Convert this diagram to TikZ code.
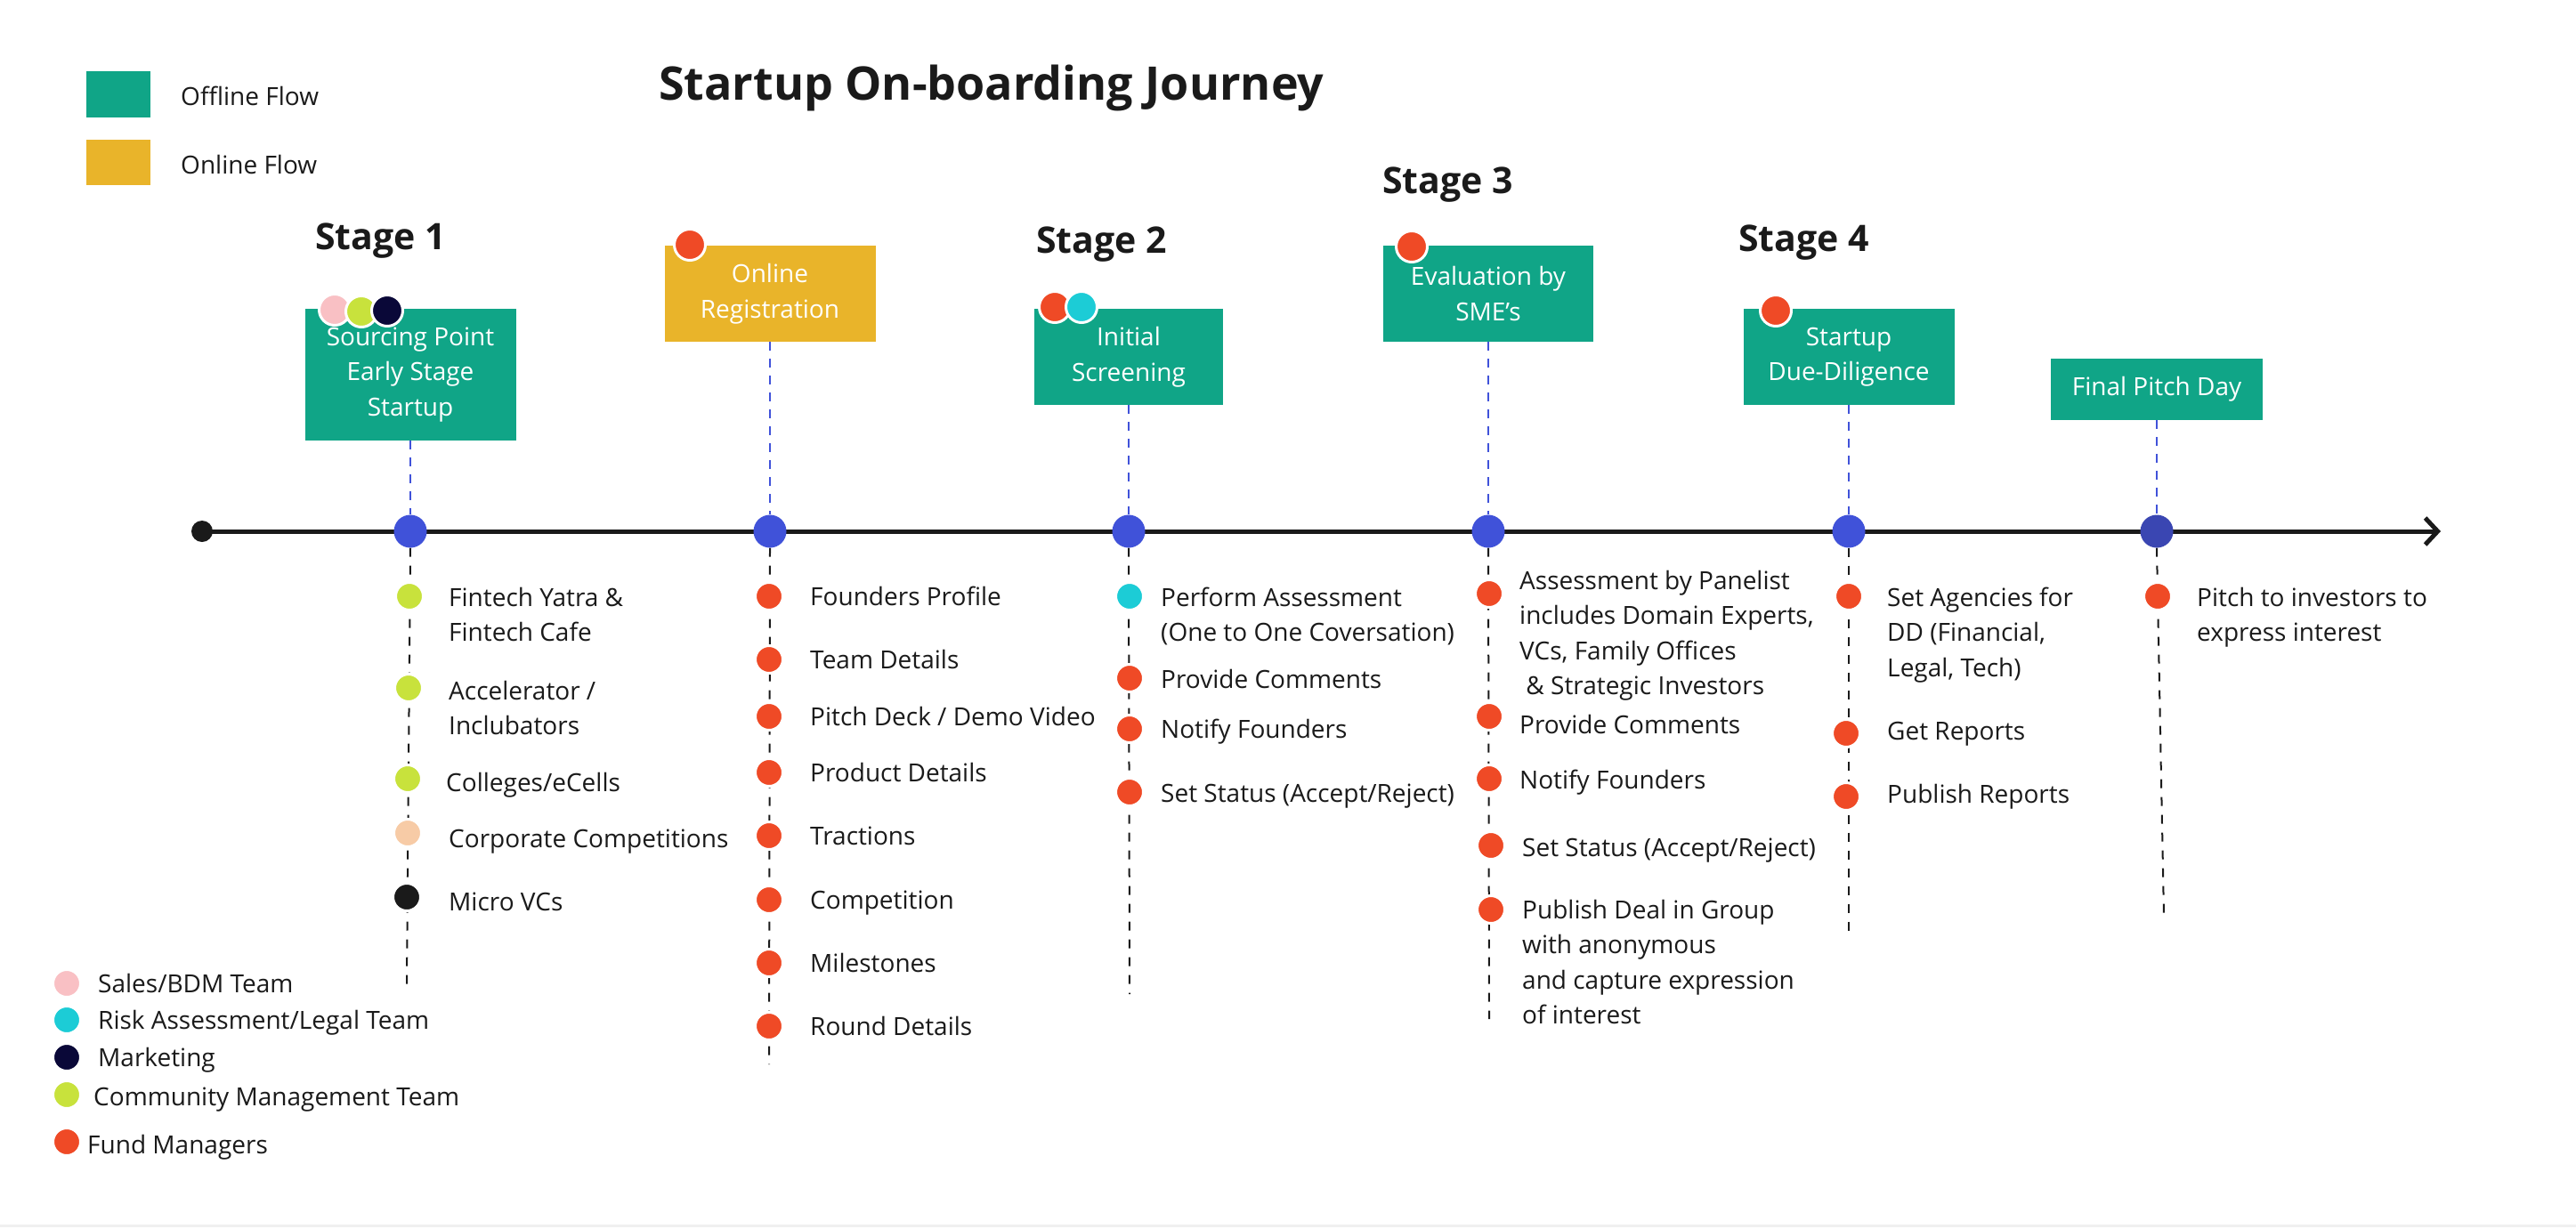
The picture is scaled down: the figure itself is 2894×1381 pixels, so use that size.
\documentclass[tikz,border=0pt]{standalone}
\usepackage{fontspec}
\setmainfont{Open Sans}
\usetikzlibrary{arrows.meta,backgrounds}
\definecolor{teal1}{RGB}{16,165,135}
\definecolor{gold1}{RGB}{233,180,42}
\definecolor{red1}{RGB}{239,74,38}
\definecolor{blue1}{RGB}{64,82,217}
\definecolor{blue2}{RGB}{58,70,178}
\definecolor{lime1}{RGB}{200,226,60}
\definecolor{pink1}{RGB}{249,192,196}
\definecolor{navy1}{RGB}{10,8,56}
\definecolor{cyan1}{RGB}{28,204,214}
\definecolor{peach1}{RGB}{247,203,166}
\definecolor{ink}{RGB}{26,26,26}
\newcommand{\itemlines}[1]{\begin{tabular}[t]{@{}l@{}}#1\end{tabular}}
\tikzset{
  box/.style={rectangle, inner sep=0pt, text=white, align=center, font=\fontsize{28}{39.5}\selectfont},
  itemtxt/.style={anchor=base west, inner sep=0pt, text=ink, font=\fontsize{28}{39.5}\selectfont},
  legtxt/.style={anchor=base west, inner sep=0pt, text=ink, font=\fontsize{28}{39.5}\selectfont},
  legsq/.style={rectangle, inner sep=0pt, minimum width=72pt, minimum height=51pt},
  stagelbl/.style={anchor=base west, inner sep=0pt, text=ink, font=\fontsize{41}{49}\selectfont\bfseries},
  titlelbl/.style={anchor=base west, inner sep=0pt, text=ink, font=\fontsize{52}{60}\selectfont\bfseries},
  idot/.style={circle, inner sep=0pt, minimum size=31pt, draw=white, line width=3pt},
  bdot/.style={circle, inner sep=0pt, minimum size=35pt, draw=white, line width=3pt},
  tdot/.style={circle, inner sep=0pt, minimum size=37pt, fill=blue1},
  bdash/.style={draw=blue1, line width=2pt, dash pattern=on 10pt off 9pt},
  kdash/.style={draw=ink, line width=2pt, dash pattern=on 10pt off 10pt},
}
\begin{document}
\begin{tikzpicture}[x=1pt,y=-1pt]
\useasboundingbox (0,0) rectangle (2894,1381);

% top legend
\node[legsq, fill=teal1] (lgoff) at (133,106) {};
\node[legtxt] (lgofft) at (203,118) {Offline Flow};
\node[legsq, fill=gold1] (lgon) at (133,182) {};
\node[legtxt] (lgont) at (203,195) {Online Flow};

% title and stages
\node[titlelbl] (title) at (740,112) {Startup On-boarding Journey};
\node[stagelbl] (st1) at (354,280) {Stage 1};
\node[stagelbl] (st2) at (1164,284) {Stage 2};
\node[stagelbl] (st3) at (1553,217) {Stage 3};
\node[stagelbl] (st4) at (1953,282) {Stage 4};

% boxes
\node[box, fill=teal1, minimum width=237pt, minimum height=148pt] (b1) at (461,421) {Sourcing Point\\Early Stage\\Startup};
\node[box, fill=gold1, minimum width=237pt, minimum height=108pt] (b2) at (865,330) {Online\\Registration};
\node[box, fill=teal1, minimum width=212pt, minimum height=108pt] (b3) at (1268,401) {Initial\\Screening};
\node[box, fill=teal1, minimum width=236pt, minimum height=108pt] (b4) at (1672,330) {Evaluation by\\SME's};
\node[box, fill=teal1, minimum width=237pt, minimum height=108pt] (b5) at (2077,401) {Startup\\Due-Diligence};
\node[box, fill=teal1, minimum width=238pt, minimum height=69pt] (b6) at (2423,437.5) {Final Pitch Day};

% dots on boxes
\node[bdot, fill=pink1] (b1p) at (376,348) {};
\node[bdot, fill=lime1] (b1l) at (406,350) {};
\node[bdot, fill=navy1] (b1n) at (435,349) {};
\node[bdot, fill=red1] (b2r) at (775,275) {};
\node[bdot, fill=red1] (b3r) at (1185,345) {};
\node[bdot, fill=cyan1] (b3c) at (1215,345) {};
\node[bdot, fill=red1] (b4r) at (1586,277) {};
\node[bdot, fill=red1] (b5r) at (1995,349) {};

% timeline
\node[circle, inner sep=0pt, minimum size=24pt, fill=ink] (s0) at (227,597) {};
\coordinate (tend) at (2742,597);
\node[tdot] (t1) at (461,597) {};
\node[tdot] (t2) at (865,597) {};
\node[tdot] (t3) at (1268,597) {};
\node[tdot] (t4) at (1672,597) {};
\node[tdot] (t5) at (2077,597) {};
\node[tdot, fill=blue2] (t6) at (2423,597) {};

\coordinate (e1) at (457,1106);
\coordinate (e2) at (864,1196);
\coordinate (e3) at (1269,1117);
\coordinate (e4) at (1673,1145);
\coordinate (e5) at (2077,1050);
\coordinate (e6) at (2431,1030);

% stage 1 items
\node[idot, fill=lime1] (a1) at (460,670) {};
\node[idot, fill=lime1] (a2) at (459,773) {};
\node[idot, fill=lime1] (a3) at (458,875) {};
\node[idot, fill=peach1] (a4) at (458,936) {};
\node[idot, fill=ink] (a5) at (457,1008) {};
\node[itemtxt] (a1t) at (504,681) {\itemlines{Fintech Yatra \&\\Fintech Cafe}};
\node[itemtxt] (a2t) at (504,786) {\itemlines{Accelerator /\\Inclubators}};
\node[itemtxt] (a3t) at (501,889) {Colleges/eCells};
\node[itemtxt] (a4t) at (504,952) {Corporate Competitions};
\node[itemtxt] (a5t) at (504,1023) {Micro VCs};

% registration items
\foreach \n/\y/\t in {1/670/{Founders Profile}, 2/741/{Team Details}, 3/805/{Pitch Deck / Demo Video}, 4/868/{Product Details}, 5/939/{Tractions}, 6/1011/{Competition}, 7/1082/{Milestones}, 8/1153/{Round Details}}{
  \node[idot, fill=red1] (r\n) at (864,\y) {};
  \node[itemtxt] (r\n t) at (910,\y+10) {\t};
}

% screening items
\node[idot, fill=cyan1] (c1) at (1269,670) {};
\node[idot, fill=red1] (c2) at (1269,762) {};
\node[idot, fill=red1] (c3) at (1269,819) {};
\node[idot, fill=red1] (c4) at (1269,890) {};
\node[itemtxt] (c1t) at (1304,681) {\itemlines{Perform Assessment\\(One to One Coversation)}};
\node[itemtxt] (c2t) at (1304,773) {Provide Comments};
\node[itemtxt] (c3t) at (1304,829) {Notify Founders};
\node[itemtxt] (c4t) at (1304,901) {Set Status (Accept/Reject)};

% evaluation items
\node[idot, fill=red1] (v1) at (1673,667) {};
\node[idot, fill=red1] (v2) at (1673,805) {};
\node[idot, fill=red1] (v3) at (1673,875) {};
\node[idot, fill=red1] (v4) at (1675,950) {};
\node[idot, fill=red1] (v5) at (1675,1022) {};
\node[itemtxt] (v1t) at (1707,662) {\itemlines{Assessment by Panelist\\includes Domain Experts,\\VCs, Family Offices\\ \ \& Strategic Investors}};
\node[itemtxt] (v2t) at (1707,824) {Provide Comments};
\node[itemtxt] (v3t) at (1707,886) {Notify Founders};
\node[itemtxt] (v4t) at (1710,962) {Set Status (Accept/Reject)};
\node[itemtxt] (v5t) at (1710,1032) {\itemlines{Publish Deal in Group\\with anonymous\\and capture expression\\of interest}};

% due diligence items
\node[idot, fill=red1] (d1) at (2077,670) {};
\node[idot, fill=red1] (d2) at (2074,824) {};
\node[idot, fill=red1] (d3) at (2074,895) {};
\node[itemtxt] (d1t) at (2120,681) {\itemlines{Set Agencies for\\DD (Financial,\\Legal, Tech)}};
\node[itemtxt] (d2t) at (2120,831) {Get Reports};
\node[itemtxt] (d3t) at (2120,902) {Publish Reports};

% final items
\node[idot, fill=red1] (f1) at (2424,670) {};
\node[itemtxt] (f1t) at (2468,681) {\itemlines{Pitch to investors to\\express interest}};

% bottom legend
\node[idot, fill=pink1] (lp) at (75,1105) {};
\node[idot, fill=cyan1] (lc) at (75,1146) {};
\node[idot, fill=navy1] (ln) at (75,1188) {};
\node[idot, fill=lime1] (ll) at (75,1230) {};
\node[idot, fill=red1] (lr) at (75,1283) {};
\node[legtxt] (lpt) at (110,1115) {Sales/BDM Team};
\node[legtxt] (lct) at (110,1156) {Risk Assessment/Legal Team};
\node[legtxt] (lnt) at (110,1198) {Marketing};
\node[legtxt] (llt) at (105,1242) {Community Management Team};
\node[legtxt] (lrt) at (98,1296) {Fund Managers};

% connectors on background
\begin{scope}[on background layer]
\fill[white] (0,0) rectangle (2894,1381);
\draw[gray!12, line width=3pt] (0,1377) -- (2894,1377);
\draw[ink, line width=5pt, -{Straight Barb[length=14pt,width=30pt]}] (s0.center) -- (tend);
\draw[bdash] (b1.south) -- (t1.north);
\draw[bdash] (b2.south) -- (t2.north);
\draw[bdash] (b3.south) -- (t3.north);
\draw[bdash] (b4.south) -- (t4.north);
\draw[bdash] (b5.south) -- (t5.north);
\draw[bdash] (b6.south) -- (t6.north);
\draw[kdash] (t1.south) -- (e1);
\draw[kdash] (t2.south) -- (e2);
\draw[kdash] (t3.south) -- (e3);
\draw[kdash] (t4.south) -- (e4);
\draw[kdash] (t5.south) -- (e5);
\draw[kdash] (t6.south) -- (e6);
\end{scope}
\end{tikzpicture}
\end{document}
